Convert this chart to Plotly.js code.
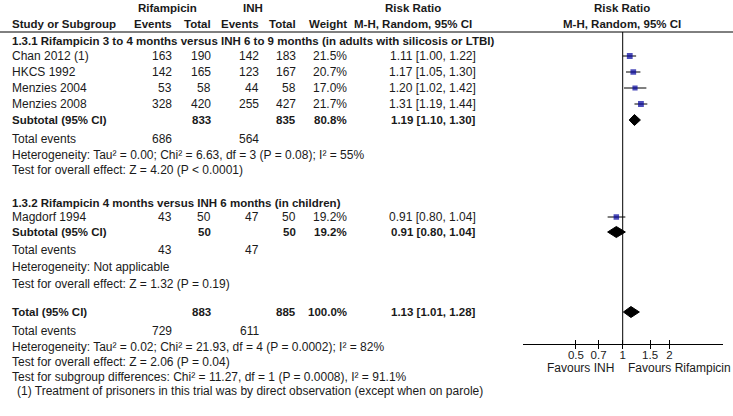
<!DOCTYPE html>
<html>
<head>
<meta charset="utf-8">
<script src="https://cdn.plot.ly/plotly-3.0.1.min.js"></script>
<style>
body { margin: 0; background: #fff; }
#forest { width: 733px; height: 416px; }
</style>
</head>
<body>
<div id="forest"></div>
<script>
// study level data
var studies = ["Chan 2012 (1)", "HKCS 1992", "Menzies 2004", "Menzies 2008", "Magdorf 1994"];
var rifEvents = [163, 142, 53, 328, 43];
var rifTotal = [190, 165, 58, 420, 50];
var inhEvents = [142, 123, 44, 255, 47];
var inhTotal = [183, 167, 58, 427, 50];
var weights = [21.5, 20.7, 17.0, 21.7, 19.2];
var rr = [1.11, 1.17, 1.20, 1.31, 0.91];
var rrLow = [1.00, 1.05, 1.02, 1.19, 0.80];
var rrHigh = [1.22, 1.30, 1.42, 1.44, 1.04];

// pooled rows: subgroup 1, subgroup 2, overall
var pooledLabels = ["Subtotal (95% CI)", "Subtotal (95% CI)", "Total (95% CI)"];
var pooledRifTotal = [833, 50, 883];
var pooledInhTotal = [835, 50, 885];
var pooledWeight = [80.8, 19.2, 100.0];
var pooledRR = [1.19, 0.91, 1.13];
var pooledLow = [1.10, 0.80, 1.01];
var pooledHigh = [1.30, 1.04, 1.28];
var pooledRifEvents = [686, 43, 729];
var pooledInhEvents = [564, 47, 611];
var heterogeneity = [
	"Heterogeneity: Tau² = 0.00; Chi² = 6.63, df = 3 (P = 0.08); I² = 55%",
	"Heterogeneity: Not applicable",
	"Heterogeneity: Tau² = 0.02; Chi² = 21.93, df = 4 (P = 0.0002); I² = 82%"
];
var overallEffect = [
	"Test for overall effect: Z = 4.20 (P < 0.0001)",
	"Test for overall effect: Z = 1.32 (P = 0.19)",
	"Test for overall effect: Z = 2.06 (P = 0.04)"
];
var groupTitles = [
	"1.3.1 Rifampicin 3 to 4 months versus INH 6 to 9 months (in adults with silicosis or LTBI)",
	"1.3.2 Rifampicin 4 months versus INH 6 months (in children)"
];
var subgroupTest = "Test for subgroup differences: Chi² = 11.27, df = 1 (P = 0.0008), I² = 91.1%";
var footnote = "(1) Treatment of prisoners in this trial was by direct observation (except when on parole)";
var tickVals = [0.5, 0.7, 1, 1.5, 2];
var favours = ["Favours INH", "Favours Rifampicin"];

// layout (pixel rows / columns)
var W = 733, H = 416;
var FONT = "Liberation Sans, Arial, sans-serif";
var REG = 12, BOLD = 11.5;
var studyRowY = [56, 72, 88, 104, 217];
var pooledRowY = [120, 232, 312];
var eventsRowY = [139, 250, 331];
var hetRowY = [155, 267, 347];
var effectRowY = [170, 284, 362];
var groupRowY = [41, 203];
var axisY = 344;
var col = { name: 11, rifEv: 173, rifTot: 212, inhEv: 260, inhTot: 297, weight: 348, rr: 477 };

var annotations = [];
function txt(s, x, y, anchor, bold) {
	annotations.push({
		text: bold ? "<b>" + s + "</b>" : s,
		xref: "paper", yref: "y",
		x: x / W, y: y,
		xanchor: anchor, yanchor: "middle",
		showarrow: false, borderpad: 0,
		font: { family: FONT, size: bold ? BOLD : REG, color: "#1a1a1a" }
	});
}
function rrText(a, b, c) {
	return a.toFixed(2) + " [" + b.toFixed(2) + ", " + c.toFixed(2) + "]";
}

// headers
txt("Rifampicin", 167, 8, "center", true);
txt("INH", 253, 8, "center", true);
txt("Risk Ratio", 413, 8, "center", true);
txt("Risk Ratio", 622, 8, "center", true);
txt("Study or Subgroup", col.name, 24, "left", true);
txt("Events", col.rifEv, 24, "right", true);
txt("Total", col.rifTot, 24, "right", true);
txt("Events", col.inhEv, 24, "right", true);
txt("Total", col.inhTot, 24, "right", true);
txt("Weight", col.weight, 24, "right", true);
txt("M-H, Random, 95% CI", 413, 24, "center", true);
txt("M-H, Random, 95% CI", 622, 24, "center", true);

for (var g = 0; g < groupTitles.length; g++) {
	txt(groupTitles[g], col.name, groupRowY[g], "left", true);
}

for (var i = 0; i < studies.length; i++) {
	var y = studyRowY[i];
	txt(studies[i], col.name, y, "left", false);
	txt(String(rifEvents[i]), col.rifEv, y, "right", false);
	txt(String(rifTotal[i]), col.rifTot, y, "right", false);
	txt(String(inhEvents[i]), col.inhEv, y, "right", false);
	txt(String(inhTotal[i]), col.inhTot, y, "right", false);
	txt(weights[i].toFixed(1) + "%", col.weight, y, "right", false);
	txt(rrText(rr[i], rrLow[i], rrHigh[i]), col.rr, y, "right", false);
}

for (var p = 0; p < pooledLabels.length; p++) {
	var py = pooledRowY[p];
	txt(pooledLabels[p], col.name, py, "left", true);
	txt(String(pooledRifTotal[p]), col.rifTot, py, "right", true);
	txt(String(pooledInhTotal[p]), col.inhTot, py, "right", true);
	txt(pooledWeight[p].toFixed(1) + "%", col.weight, py, "right", true);
	txt(rrText(pooledRR[p], pooledLow[p], pooledHigh[p]), col.rr, py, "right", true);
	txt("Total events", col.name, eventsRowY[p], "left", false);
	txt(String(pooledRifEvents[p]), col.rifEv, eventsRowY[p], "right", false);
	txt(String(pooledInhEvents[p]), col.inhEv, eventsRowY[p], "right", false);
	txt(heterogeneity[p], col.name, hetRowY[p], "left", false);
	txt(overallEffect[p], col.name, effectRowY[p], "left", false);
}
txt(subgroupTest, col.name, 377, "left", false);
txt(footnote, 16, 391, "left", false);
txt(favours[0], 615, 368, "right", false);
txt(favours[1], 627, 368, "left", false);

// traces
var traces = [];
traces.push({
	x: [1, 1], y: [32, axisY], mode: "lines",
	line: { color: "#000", width: 1 }, hoverinfo: "skip"
});
for (var j = 0; j < studies.length; j++) {
	traces.push({
		x: [rrLow[j], rrHigh[j]], y: [studyRowY[j], studyRowY[j]],
		mode: "lines", line: { color: "#000", width: 1 }, hoverinfo: "skip"
	});
}
traces.push({
	x: rr, y: studyRowY, mode: "markers",
	marker: {
		symbol: "square", color: "#00009c",
		size: weights.map(function (w) { return Math.sqrt(w) * 1.25; }),
		line: { width: 0 }
	}
});
for (var k = 0; k < pooledRR.length; k++) {
	var dy = pooledRowY[k];
	traces.push({
		x: [pooledLow[k], pooledRR[k], pooledHigh[k], pooledRR[k], pooledLow[k]],
		y: [dy, dy - 5.5, dy, dy + 5.5, dy],
		mode: "lines", fill: "toself", fillcolor: "#000",
		line: { color: "#000", width: 1 }, hoverinfo: "skip"
	});
}

var layout = {
	width: W, height: H,
	margin: { l: 0, r: 0, t: 0, b: 0, pad: 0 },
	paper_bgcolor: "#fff", plot_bgcolor: "rgba(0,0,0,0)",
	showlegend: false,
	font: { family: FONT, size: REG, color: "#1a1a1a" },
	xaxis: {
		type: "log",
		range: [-0.643, 0.643],
		domain: [522.7 / W, 722.7 / W],
		anchor: "free", position: (H - axisY) / H,
		showline: true, linecolor: "#000", linewidth: 1,
		showgrid: false, zeroline: false,
		tickmode: "array", tickvals: tickVals,
		ticktext: tickVals.map(String),
		ticks: "inside", ticklen: 4, tickcolor: "#000",
		minor: { tickmode: "array", tickvals: tickVals, ticks: "outside", ticklen: 4, tickcolor: "#000", showgrid: false },
		tickfont: { family: FONT, size: 11.5, color: "#1a1a1a" },
		fixedrange: true
	},
	yaxis: {
		range: [H, 0], domain: [0, 1],
		visible: false, fixedrange: true
	},
	shapes: [{
		type: "line", xref: "paper", yref: "y",
		x0: 0, x1: 1, y0: 32, y1: 32,
		line: { color: "#000", width: 1 }
	}],
	annotations: annotations
};

Plotly.newPlot("forest", traces, layout, { displayModeBar: false, staticPlot: true });
</script>
</body>
</html>
